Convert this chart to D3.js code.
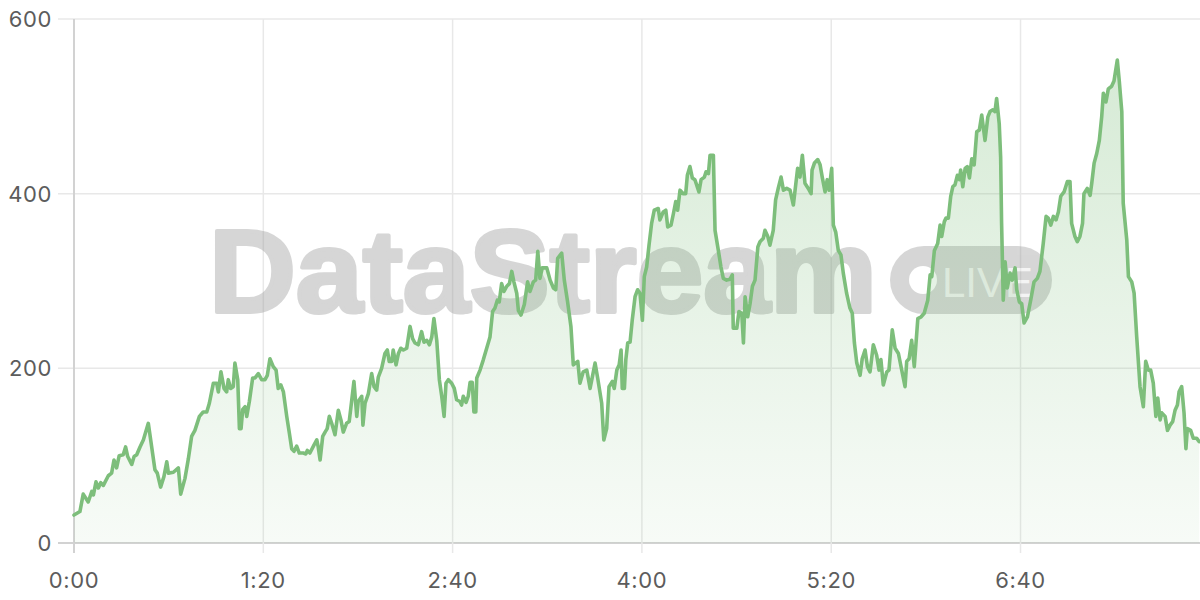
<!DOCTYPE html>
<html>
<head>
<meta charset="utf-8">
<script src="https://cdn.jsdelivr.net/npm/d3@7/dist/d3.min.js"></script>
<style>
  html, body { margin: 0; padding: 0; background: #ffffff; }
  svg { display: block; }
</style>
</head>
<body>
<svg id="chart" width="1200" height="600"></svg>
<script>
// seconds since start
const times = [
  0, 2.5, 3.9, 6.0, 7.5, 8.2, 9.3, 10.3, 11.3, 12.4, 14.5, 15.9, 16.9, 18.0, 19.1, 20.8, 21.8, 22.7, 24.4, 25.4,
  26.5, 27.9, 29.3, 31.4, 34.2, 35.2, 36.6, 38.0, 39.2, 39.9, 42.0, 44.1, 45.1, 46.9, 48.3, 49.7, 51.1, 53.0, 54.6, 56.1,
  57.2, 58.9, 60.3, 61.0, 62.1, 63.4, 64.5, 65.2, 66.2, 67.3, 68.0, 69.2, 69.9, 70.6, 71.3, 72.3, 73.0, 74.1, 75.5, 76.5,
  77.9, 79.3, 80.7, 81.7, 82.8, 84.2, 85.4, 86.3, 87.4, 88.5, 89.9, 91.0, 92.0, 93.0, 94.1, 95.2, 96.9, 98.0, 98.6, 99.7,
  101.4, 102.6, 103.2, 104.0, 105.1, 106.1, 107.0, 107.9, 108.9, 110.3, 111.7, 112.8, 113.8, 115.2, 116.3, 117.4, 118.3, 119.5, 120.1, 121.6,
  122.1, 123.0, 124.4, 125.8, 126.8, 127.9, 128.6, 130.0, 131.4, 132.4, 133.2, 134.3, 134.9, 136.1, 137.1, 138.1, 139.2, 140.6, 142.0, 143.1,
  144.1, 145.5, 146.9, 147.9, 149.1, 150.2, 151.2, 152.1, 153.3, 154.4, 155.4, 156.4, 157.2, 158.2, 159.6, 160.7, 161.7, 163.1, 163.8, 164.5,
  165.7, 166.6, 167.4, 168.3, 169.0, 169.8, 170.2, 171.6, 173.0, 174.4, 175.8, 176.9, 177.9, 178.9, 179.7, 180.7, 181.7, 182.9, 184.0, 185.0,
  185.9, 187.1, 187.8, 188.9, 190.3, 191.7, 192.7, 194.1, 195.1, 196.0, 196.9, 197.9, 199.8, 201.2, 202.6, 203.6, 204.4, 206.1, 207.2, 208.6,
  210.0, 211.0, 212.9, 213.8, 215.2, 216.7, 218.1, 220.2, 221.3, 223.0, 223.9, 225.1, 226.1, 227.5, 228.3, 229.4, 230.4, 231.2, 231.7, 232.6,
  233.2, 234.0, 235.0, 235.9, 237.1, 238.2, 239.2, 240.2, 241.0, 242.0, 243.0, 244.1, 245.2, 246.9, 247.6, 249.0, 250.1, 250.9, 252.3, 253.3,
  254.3, 255.1, 256.1, 257.5, 258.5, 259.2, 260.3, 261.3, 262.4, 264.1, 265.0, 266.4, 267.1, 268.1, 268.8, 270.2, 270.9, 272.3, 273.4, 274.4,
  275.8, 277.2, 278.2, 278.6, 280.1, 281.0, 282.2, 282.9, 283.6, 284.7, 285.7, 286.7, 287.8, 289.0, 289.9, 291.3, 292.0, 293.2, 294.1, 295.5,
  296.5, 297.6, 298.8, 299.8, 301.2, 302.6, 304.0, 305.8, 306.8, 307.8, 308.9, 310.3, 311.5, 311.9, 312.9, 314.3, 315.3, 316.2, 317.4, 318.3,
  319.1, 320.2, 320.9, 321.9, 323.0, 324.1, 325.1, 326.5, 327.9, 328.9, 329.8, 330.8, 332.2, 333.1, 334.3, 335.3, 336.4, 337.8, 339.2, 340.2,
  341.0, 342.0, 343.5, 344.4, 345.8, 347.0, 348.4, 349.8, 351.2, 351.9, 352.9, 354.0, 355.1, 356.6, 358.0, 359.3, 360.8, 361.8, 362.5, 363.6,
  365.0, 366.0, 366.7, 367.8, 368.5, 369.5, 370.5, 371.4, 372.3, 373.3, 374.2, 374.7, 375.6, 376.6, 377.5, 378.4, 379.4, 380.4, 381.5, 382.6,
  383.6, 385.0, 386.2, 387.1, 388.3, 389.2, 389.9, 391.0, 391.6, 392.0, 392.7, 393.5, 394.4, 395.6, 396.5, 397.7, 398.4, 399.5, 400.5, 401.5,
  402.9, 404.3, 405.7, 407.1, 408.2, 409.6, 410.8, 411.7, 412.8, 413.9, 415.0, 416.0, 417.0, 418.4, 419.8, 420.9, 421.6, 423.0, 424.0, 425.1,
  426.2, 426.8, 428.2, 429.4, 430.1, 431.1, 432.2, 433.3, 434.3, 435.0, 436.1, 437.1, 438.5, 439.5, 440.9, 441.7, 442.8, 443.4, 444.9, 445.6,
  447.0, 448.0, 449.1, 450.5, 451.9, 452.9, 454.0, 455.0, 456.1, 457.2, 458.0, 459.0, 459.7, 461.1, 462.1, 463.2, 464.3, 465.3, 466.3, 467.0,
  468.1, 469.1, 469.9, 470.5, 471.9, 473.0, 474.4, 475.5
];
const values = [
  32, 36, 56, 47, 59, 55, 70, 63, 69, 66, 77, 80, 95, 86, 100, 101, 110, 99, 90, 99,
  101, 110, 118, 137, 84, 80, 64, 76, 93, 80, 81, 86, 56, 74, 96, 122, 129, 145, 150, 150,
  160, 183, 183, 173, 196, 177, 173, 187, 177, 179, 206, 187, 131, 131, 153, 156, 145, 162, 189, 189,
  194, 187, 187, 192, 211, 202, 198, 177, 181, 173, 145, 126, 108, 105, 111, 103, 103, 102, 106, 103,
  112, 118, 110, 95, 122, 127, 131, 145, 137, 124, 152, 141, 127, 137, 139, 164, 185, 145, 162, 168,
  135, 160, 171, 194, 179, 175, 190, 200, 217, 221, 208, 208, 221, 204, 217, 223, 221, 223, 248, 234,
  229, 227, 242, 230, 232, 227, 236, 257, 232, 187, 168, 145, 183, 187, 183, 177, 164, 162, 158, 168,
  161, 168, 184, 184, 150, 150, 189, 198, 210, 223, 236, 265, 269, 278, 276, 297, 288, 294, 297, 311,
  299, 286, 266, 261, 273, 299, 288, 299, 301, 334, 303, 315, 315, 301, 292, 290, 326, 332, 301, 276,
  248, 204, 208, 183, 196, 198, 177, 206, 189, 160, 118, 131, 179, 185, 177, 198, 204, 221, 177, 177,
  210, 229, 230, 255, 282, 290, 286, 255, 305, 316, 341, 366, 381, 383, 370, 379, 381, 362, 364, 377,
  391, 381, 404, 400, 400, 421, 431, 418, 416, 402, 416, 419, 425, 423, 444, 444, 358, 335, 316, 303,
  301, 302, 307, 246, 246, 265, 263, 229, 282, 259, 274, 294, 301, 339, 345, 349, 358, 351, 341, 358,
  393, 406, 419, 404, 406, 404, 387, 429, 419, 444, 412, 406, 400, 427, 435, 439, 433, 419, 402, 416,
  404, 429, 364, 356, 335, 330, 309, 286, 269, 263, 229, 206, 192, 211, 221, 202, 196, 227, 215, 198,
  210, 181, 196, 198, 244, 223, 217, 198, 179, 208, 211, 232, 202, 257, 259, 263, 278, 307, 305, 335,
  343, 364, 351, 368, 372, 372, 397, 408, 410, 421, 416, 427, 408, 429, 431, 418, 440, 433, 471, 473,
  490, 461, 488, 494, 496, 494, 509, 480, 442, 366, 278, 322, 292, 309, 301, 315, 290, 276, 274, 252,
  259, 278, 299, 303, 311, 343, 374, 372, 364, 374, 370, 379, 397, 402, 414, 414, 366, 351, 345, 351,
  366, 400, 406, 398, 412, 435, 446, 461, 488, 515, 505, 520, 523, 529, 553, 530, 494, 389, 347, 305,
  299, 286, 236, 179, 156, 208, 198, 198, 183, 145, 166, 141, 149, 145, 129, 135, 139, 152, 158, 173,
  179, 149, 108, 131, 129, 120, 120, 116
];
const yTicks = [0, 200, 400, 600];
const xTicks = [0, 80, 160, 240, 320, 400];
const xTickLabels = ["0:00", "1:20", "2:40", "4:00", "5:20", "6:40"];
const watermarkText = "DataStream";
const watermarkBadge = "LIVE";

const nPts = Math.min(times.length, values.length);
const data = times.slice(0, nPts).map((t, i) => ({ t, v: values[i] }));

const svg = d3.select("#chart");
const M = { left: 74, right: 1198, top: 19, bottom: 543 };

const x = d3.scaleLinear().domain([0, 475]).range([M.left, M.right]);
const y = d3.scaleLinear().domain([0, 600]).range([M.bottom, M.top]);

const FONT = "Inter, 'DejaVu Sans', sans-serif";

// gradient
const defs = svg.append("defs");
const grad = defs.append("linearGradient").attr("id", "areaGrad")
  .attr("gradientUnits", "userSpaceOnUse")
  .attr("x1", 0).attr("x2", 0).attr("y1", y(560)).attr("y2", y(0));
grad.append("stop").attr("offset", "0%").attr("stop-color", "#7dbe7b").attr("stop-opacity", 0.32);
grad.append("stop").attr("offset", "100%").attr("stop-color", "#7dbe7b").attr("stop-opacity", 0.06);

// horizontal grid
svg.append("g").selectAll("line").data(yTicks).join("line")
  .attr("x1", 58).attr("x2", 1200)
  .attr("y1", d => y(d)).attr("y2", d => y(d))
  .attr("stroke", d => d === 0 ? "#d2d2d2" : "#e8e8e8")
  .attr("stroke-width", d => d === 0 ? 2 : 1.5);

// vertical grid
svg.append("g").selectAll("line").data(xTicks).join("line")
  .attr("x1", d => x(d)).attr("x2", d => x(d))
  .attr("y1", M.top).attr("y2", 553)
  .attr("stroke", d => d === 0 ? "#d2d2d2" : "#e8e8e8")
  .attr("stroke-width", d => d === 0 ? 2 : 1.5);

// watermark (behind the series)
const wm = svg.append("g").attr("opacity", 0.4);
wm.append("text").attr("x", 209).attr("y", 312)
  .attr("font-family", "'Liberation Sans', Arial, sans-serif")
  .attr("font-weight", 700).attr("font-size", 117)
  .attr("textLength", 668).attr("lengthAdjust", "spacingAndGlyphs")
  .attr("fill", "#9a9a9a").attr("stroke", "#9a9a9a").attr("stroke-width", 4)
  .attr("stroke-linejoin", "round")
  .text(watermarkText);
wm.append("rect").attr("x", 890).attr("y", 246).attr("width", 162).attr("height", 68)
  .attr("rx", 34).attr("fill", "#9a9a9a");
wm.append("circle").attr("cx", 923).attr("cy", 280).attr("r", 14).attr("fill", "#ffffff");
wm.append("text").attr("x", 942).attr("y", 297)
  .attr("font-family", "'Liberation Sans', Arial, sans-serif")
  .attr("font-size", 42).attr("fill", "#ffffff").attr("opacity", 0.75)
  .text(watermarkBadge);

// area
const area = d3.area().x(d => x(d.t)).y0(y(0)).y1(d => y(d.v));
svg.append("path").datum(data).attr("d", area).attr("fill", "url(#areaGrad)");

// line
const line = d3.line().x(d => x(d.t)).y(d => y(d.v));
svg.append("path").datum(data).attr("d", line)
  .attr("fill", "none").attr("stroke", "#7dbe7b")
  .attr("stroke-width", 3.6).attr("stroke-linejoin", "round").attr("stroke-linecap", "round");

// y labels
svg.append("g").selectAll("text").data(yTicks).join("text")
  .attr("x", 52).attr("y", d => y(d)).attr("dy", "0.36em")
  .attr("text-anchor", "end")
  .attr("font-family", FONT).attr("font-size", 22).attr("letter-spacing", 0.6)
  .attr("fill", "#5c5c5c").text(d => d);

// x labels
svg.append("g").selectAll("text").data(xTicks).join("text")
  .attr("x", d => x(d)).attr("y", 588)
  .attr("text-anchor", "middle")
  .attr("font-family", FONT).attr("font-size", 22).attr("letter-spacing", 0.6)
  .attr("fill", "#5c5c5c").text((d, i) => xTickLabels[i]);
</script>
</body>
</html>
